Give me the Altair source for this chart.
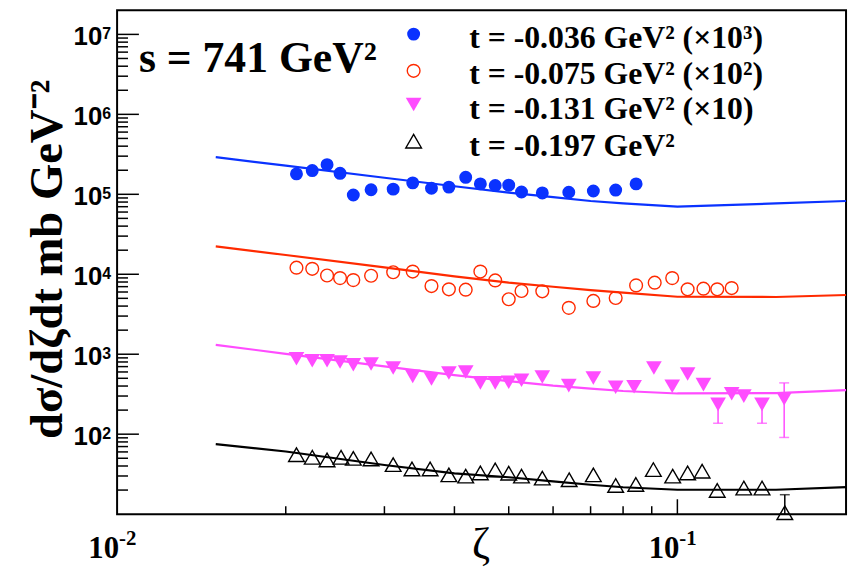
import altair as alt
import pandas as pd

# ---------------- data (plotted values, already scaled as in the figure) ----------------
# t = -0.036 GeV^2 (x10^3)
zeta_blue = [0.0209, 0.0223, 0.0237, 0.0250, 0.0264, 0.0284, 0.0311, 0.0337, 0.0364, 0.0391,
             0.0419, 0.0445, 0.0473, 0.0500, 0.0527, 0.0574, 0.0640, 0.0708, 0.0776, 0.0844]
val_blue = [1.80e5, 1.98e5, 2.35e5, 1.83e5, 9.8e4, 1.14e5, 1.16e5, 1.39e5, 1.19e5, 1.23e5,
            1.63e5, 1.35e5, 1.29e5, 1.30e5, 1.07e5, 1.04e5, 1.06e5, 1.10e5, 1.13e5, 1.35e5]

# t = -0.075 GeV^2 (x10^2)
zeta_red = [0.0209, 0.0223, 0.0237, 0.0250, 0.0264, 0.0284, 0.0311, 0.0337, 0.0364, 0.0391,
            0.0419, 0.0445, 0.0473, 0.0500, 0.0527, 0.0574, 0.0640, 0.0708, 0.0776, 0.0844,
            0.0911, 0.0979, 0.1043, 0.1113, 0.1178, 0.1250]
val_red = [1.21e4, 1.17e4, 9.66e3, 8.95e3, 8.45e3, 9.58e3, 1.06e4, 1.08e4, 7.12e3, 6.48e3,
           6.42e3, 1.08e4, 8.38e3, 4.87e3, 6.17e3, 6.12e3, 3.80e3, 4.64e3, 5.05e3, 7.26e3,
           7.85e3, 8.95e3, 6.48e3, 6.61e3, 6.48e3, 6.72e3]

# t = -0.131 GeV^2 (x10)
zeta_mag = [0.0209, 0.0223, 0.0237, 0.0250, 0.0264, 0.0284, 0.0311, 0.0337, 0.0364, 0.0391,
            0.0419, 0.0445, 0.0473, 0.0500, 0.0527, 0.0574, 0.0640, 0.0708, 0.0776, 0.0837,
            0.0908, 0.0979, 0.1043, 0.1113, 0.1182, 0.1250, 0.1314, 0.1416, 0.1551]
val_mag = [877, 828, 828, 798, 739, 754, 672, 529, 491, 583,
           600, 438, 438, 446, 472, 520, 405, 505, 386, 391,
           672, 397, 566, 417, 236, 320, 299, 236, 277]

# t = -0.197 GeV^2
zeta_blk = [0.0209, 0.0223, 0.0237, 0.0251, 0.0264, 0.0284, 0.0311, 0.0336, 0.0362, 0.0391,
            0.0419, 0.0445, 0.0473, 0.0500, 0.0527, 0.0574, 0.0641, 0.0708, 0.0776, 0.0843,
            0.0906, 0.0981, 0.1043, 0.1107, 0.1178, 0.1314, 0.1416, 0.1555]
val_blk = [55.4, 51.4, 47.6, 51.4, 49.9, 49.0, 41.6, 36.8, 36.8, 31.0,
           29.9, 32.8, 35.7, 32.5, 29.9, 28.2, 26.9, 31.0, 22.8, 23.5,
           36.1, 29.9, 32.8, 34.4, 19.8, 21.2, 21.2, 10.4]

# model curves
zeta_model = [0.015, 0.02, 0.03, 0.04, 0.05, 0.06, 0.07, 0.08, 0.1, 0.15, 0.2]
model_blue = [2.92e5, 2.28e5, 1.61e5, 1.26e5, 1.05e5, 9.23e4, 8.24e4, 7.7e4, 7.0e4, 7.7e4, 8.24e4]
model_red = [2.23e4, 1.74e4, 1.22e4, 9.39e3, 7.85e3, 6.98e3, 6.33e3, 5.89e3, 5.23e3, 5.2e3, 5.5e3]
model_mag = [1309, 1012, 704, 547, 461, 405, 372, 347, 323, 327, 355]
model_blk = [75.2, 60.7, 41.2, 32.4, 28.9, 25.7, 23.3, 21.7, 20.2, 20.2, 21.8]

# error bars
err_mag_zeta = [0.1182, 0.1416, 0.1551]
err_mag_lo = [137, 137, 91]
err_mag_hi = [265, 265, 438]
err_blk_zeta = [0.1555]
err_blk_lo = [10.0]
err_blk_hi = [17.5]

legend_labels = ["t = -0.036 GeV² (×10³)", "t = -0.075 GeV² (×10²)",
                 "t = -0.131 GeV² (×10)", "t = -0.197 GeV²"]
energy_label = "s = 741 GeV²"
y_title = "dσ/dζdt mb GeV⁻²"
x_title = "ζ"

y_major = [1e2, 1e3, 1e4, 1e5, 1e6, 1e7]
y_exp = ["2", "3", "4", "5", "6", "7"]
x_major = [0.01, 0.1]
x_exp = ["-2", "-1"]

# ---------------- styling ----------------
BLUE, RED, MAG, BLK = "#0a32ff", "#ff2a00", "#ff4cff", "#000000"
SERIF, SANS = "Liberation Serif", "Liberation Sans"
W, H = 735, 508

xs = alt.Scale(type="log", domain=[0.01, 0.2], nice=False)
ys = alt.Scale(type="log", domain=[10, 2e7], nice=False)


def X(f):
    return alt.X(f, type="quantitative", scale=xs, axis=None)


def Y(f):
    return alt.Y(f, type="quantitative", scale=ys, axis=None)


layers = []

# ---- inside ticks ----
y_minor = [m * 10 ** k for k in range(1, 7) for m in range(2, 10) if m * 10 ** k < 2e7]
layers.append(alt.Chart(pd.DataFrame({"v": y_major})).mark_rule(color="black", strokeWidth=1.5)
              .encode(y=Y("v"), x=alt.value(0), x2=alt.value(22)))
layers.append(alt.Chart(pd.DataFrame({"v": y_minor})).mark_rule(color="black", strokeWidth=1.5)
              .encode(y=Y("v"), x=alt.value(0), x2=alt.value(11)))
x_minor = [0.02, 0.03, 0.04, 0.05, 0.06, 0.07, 0.08, 0.09]
layers.append(alt.Chart(pd.DataFrame({"v": [0.1]})).mark_rule(color="black", strokeWidth=1.5)
              .encode(x=X("v"), y=alt.value(H), y2=alt.value(H - 15)))
layers.append(alt.Chart(pd.DataFrame({"v": x_minor})).mark_rule(color="black", strokeWidth=1.5)
              .encode(x=X("v"), y=alt.value(H), y2=alt.value(H - 8)))

# ---- model curves ----
for vals, col in [(model_blue, BLUE), (model_red, RED), (model_mag, MAG), (model_blk, BLK)]:
    df = pd.DataFrame({"z": zeta_model, "v": vals})
    layers.append(alt.Chart(df).mark_line(color=col, strokeWidth=2.2, interpolate="linear")
                  .encode(x=X("z"), y=Y("v")))

# ---- error bars ----
for zz, lo, hi, col in [(err_mag_zeta, err_mag_lo, err_mag_hi, MAG),
                        (err_blk_zeta, err_blk_lo, err_blk_hi, BLK)]:
    df = pd.DataFrame({"z": zz, "lo": lo, "hi": hi})
    layers.append(alt.Chart(df).mark_rule(color=col, strokeWidth=1.5)
                  .encode(x=X("z"), y=Y("lo"), y2="hi"))
    layers.append(alt.Chart(df).mark_tick(color=col, orient="horizontal", size=10, thickness=1.5)
                  .encode(x=X("z"), y=Y("lo")))
    layers.append(alt.Chart(df).mark_tick(color=col, orient="horizontal", size=10, thickness=1.5)
                  .encode(x=X("z"), y=Y("hi")))

# ---- data points ----
layers.append(alt.Chart(pd.DataFrame({"z": zeta_blue, "v": val_blue}))
              .mark_point(shape="circle", filled=True, color=BLUE, size=170, opacity=1)
              .encode(x=X("z"), y=Y("v")))
layers.append(alt.Chart(pd.DataFrame({"z": zeta_red, "v": val_red}))
              .mark_point(shape="circle", filled=False, color=RED, size=165, strokeWidth=1.4, opacity=1)
              .encode(x=X("z"), y=Y("v")))
layers.append(alt.Chart(pd.DataFrame({"z": zeta_mag, "v": val_mag}))
              .mark_point(shape="triangle-down", filled=True, color=MAG, size=250, opacity=1)
              .encode(x=X("z"), y=Y("v")))
layers.append(alt.Chart(pd.DataFrame({"z": zeta_blk, "v": val_blk}))
              .mark_point(shape="triangle-up", filled=False, color=BLK, size=250, strokeWidth=1.4, opacity=1)
              .encode(x=X("z"), y=Y("v")))

# ---- axis labels ----
ydf = pd.DataFrame({"v": y_major, "e": y_exp, "b": ["10"] * len(y_major)})
layers.append(alt.Chart(ydf).mark_text(font=SANS, fontWeight="bold", fontSize=26, align="right",
                                       baseline="alphabetic", dy=11)
              .encode(y=Y("v"), x=alt.value(-15), text="b:N"))
layers.append(alt.Chart(ydf).mark_text(font=SANS, fontWeight="bold", fontSize=16, align="left",
                                       baseline="alphabetic", dy=5)
              .encode(y=Y("v"), x=alt.value(-15), text="e:N"))
xdf = pd.DataFrame({"v": x_major, "e": x_exp, "b": ["10"] * len(x_major)})
layers.append(alt.Chart(xdf).mark_text(font=SERIF, fontWeight="bold", fontSize=31, align="right",
                                       baseline="alphabetic", dx=2)
              .encode(x=X("v"), y=alt.value(552), text="b:N"))
layers.append(alt.Chart(xdf).mark_text(font=SERIF, fontWeight="bold", fontSize=21, align="left",
                                       baseline="alphabetic", dx=2)
              .encode(x=X("v"), y=alt.value(539), text="e:N"))

one = pd.DataFrame({"t": [x_title]})
layers.append(alt.Chart(one).mark_text(font=SERIF, fontSize=44, align="center", baseline="alphabetic")
              .encode(x=alt.value(367), y=alt.value(552), text="t:N"))
layers.append(alt.Chart(pd.DataFrame({"t": [y_title]}))
              .mark_text(font=SERIF, fontWeight="bold", fontSize=47, align="center",
                         baseline="alphabetic", angle=270)
              .encode(x=alt.value(-56), y=alt.value(251), text="t:N"))
layers.append(alt.Chart(pd.DataFrame({"t": [energy_label]}))
              .mark_text(font=SERIF, fontWeight="bold", fontSize=44, align="left", baseline="alphabetic")
              .encode(x=alt.value(22), y=alt.value(62), text="t:N"))

# ---- legend ----
leg_y = [24, 61, 95, 132]
leg_text_y = [38, 74, 110, 147]
sym = [dict(shape="circle", filled=True, color=BLUE, size=170),
       dict(shape="circle", filled=False, color=RED, size=165, strokeWidth=1.4),
       dict(shape="triangle-down", filled=True, color=MAG, size=250),
       dict(shape="triangle-up", filled=False, color=BLK, size=250, strokeWidth=1.4)]
for i, lab in enumerate(legend_labels):
    d = pd.DataFrame({"t": [lab]})
    layers.append(alt.Chart(d).mark_point(opacity=1, **sym[i])
                  .encode(x=alt.value(299), y=alt.value(leg_y[i])))
    layers.append(alt.Chart(d).mark_text(font=SERIF, fontWeight="bold", fontSize=32, align="left",
                                         baseline="alphabetic")
                  .encode(x=alt.value(355), y=alt.value(leg_text_y[i]), text="t:N"))

chart = alt.layer(*layers).properties(
    width=W, height=H, autosize="none",
    padding={"left": 110, "top": 0, "right": 5, "bottom": 56},
    background="white",
).configure_view(stroke="black", strokeWidth=2)

chart.save("out.html", embed_options={"renderer": "svg", "actions": False})
